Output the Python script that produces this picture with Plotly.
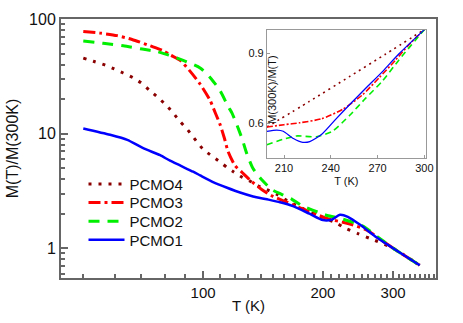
import plotly.graph_objects as go

# main panel: M(T)/M(300K) against T (log-log)
t_pcmo4 = [50, 53, 56.8, 59.8, 63, 66.7, 70.3, 73.2, 76.7, 80.8, 84.1, 87.6, 91.2, 100, 105.3, 110.3,
           114.9, 118.9, 125.3, 131.2, 137.4, 144.7, 153.3, 165.3, 196.6, 216.9, 224.5, 244.8, 270, 300, 350]
m_pcmo4 = [45.6, 42.8, 39.6, 36.7, 33.8, 30.7, 27.3, 24.0, 20.9, 17.7, 15.1, 12.7, 10.9, 7.3, 6.36, 5.66,
           5.05, 4.67, 4.16, 3.85, 3.5, 3.24, 2.94, 2.52, 1.89, 1.65, 1.53, 1.34, 1.17, 1.0, 0.71]

t_pcmo3 = [50, 55.1, 60.8, 66.3, 73.6, 79.4, 82.6, 87.6, 92.8, 98.3, 104.1, 107.2, 110.3, 113, 115.5,
           120.3, 125.3, 131.2, 140.6, 149.8, 162.4, 173.1, 204.7, 229.8, 257.9, 280, 300, 350]
m_pcmo3 = [77.9, 75.3, 71.6, 66.3, 58.3, 52.9, 48.7, 43.6, 34.9, 27.0, 19.5, 15.3, 12.0, 9.2, 7.0,
           5.25, 4.58, 3.93, 3.24, 2.83, 2.52, 2.29, 1.82, 1.65, 1.44, 1.18, 1.0, 0.71]

t_pcmo2 = [50, 56.1, 63, 70.3, 76.7, 82, 89.1, 98.3, 104.1, 110.3, 115.5, 118.2, 121.7, 125.3, 128.9,
           133.5, 140.6, 149, 157.8, 167.2, 178, 205, 221, 252, 275, 300, 350]
m_pcmo2 = [64.2, 61.4, 58.3, 54.7, 51.9, 48.4, 43.6, 37.4, 30.9, 23.7, 17.3, 15.1, 11.8, 9.0, 6.6,
           4.95, 3.93, 3.24, 2.94, 2.67, 2.33, 1.93, 1.82, 1.56, 1.25, 1.0, 0.71]

t_pcmo1 = [50, 58.4, 64.5, 70.7, 78, 82.6, 94.4, 98.3, 105.9, 114.9, 123.8, 133.5, 144.7, 156, 168.2,
           185, 200, 210.7, 220.7, 231, 248, 273, 300, 350]
m_pcmo1 = [11.1, 9.77, 8.83, 7.46, 6.48, 5.8, 4.65, 4.32, 3.78, 3.37, 3.06, 2.83, 2.67, 2.52, 2.33,
           2.0, 1.76, 1.78, 1.96, 1.88, 1.6, 1.24, 1.0, 0.71]

# inset: M(300K)/M(T) near 200-300 K
ti_pcmo4 = [199, 226, 252, 275, 300]
ri_pcmo4 = [0.585, 0.693, 0.80, 0.895, 1.0]

ti_pcmo3 = [199, 210, 220, 234, 247.5, 260, 271, 281.5, 290, 300]
ri_pcmo3 = [0.585, 0.595, 0.603, 0.62, 0.66, 0.72, 0.795, 0.87, 0.935, 1.0]

ti_pcmo2 = [199, 209.5, 218, 230.7, 241, 252, 262.4, 273, 283.6, 300]
ri_pcmo2 = [0.51, 0.533, 0.547, 0.544, 0.567, 0.634, 0.708, 0.78, 0.87, 1.0]

ti_pcmo1 = [199, 205.4, 209.5, 216, 222, 226.5, 234, 243.4, 252, 262.4, 273, 283.6, 300]
ri_pcmo1 = [0.567, 0.572, 0.567, 0.536, 0.52, 0.523, 0.553, 0.62, 0.68, 0.75, 0.82, 0.896, 1.0]

styles = {
    "PCMO4": {"color": "#8b0000", "width": 3, "dash": "3px,7px"},
    "PCMO3": {"color": "#ff0000", "width": 3, "dash": "12px,4px,3px,4px"},
    "PCMO2": {"color": "#00ee00", "width": 3, "dash": "11px,8px"},
    "PCMO1": {"color": "#0000ff", "width": 2.5, "dash": "solid"},
}
inset_styles = {
    "PCMO4": {"color": "#8b0000", "width": 1.6, "dash": "2px,4px"},
    "PCMO3": {"color": "#ff0000", "width": 1.6, "dash": "6px,2px,2px,2px"},
    "PCMO2": {"color": "#00ee00", "width": 1.6, "dash": "6px,4px"},
    "PCMO1": {"color": "#0000ff", "width": 1.3, "dash": "solid"},
}

main = [("PCMO4", t_pcmo4, m_pcmo4), ("PCMO3", t_pcmo3, m_pcmo3),
        ("PCMO2", t_pcmo2, m_pcmo2), ("PCMO1", t_pcmo1, m_pcmo1)]
inset = [("PCMO4", ti_pcmo4, ri_pcmo4), ("PCMO3", ti_pcmo3, ri_pcmo3),
         ("PCMO2", ti_pcmo2, ri_pcmo2), ("PCMO1", ti_pcmo1, ri_pcmo1)]

# one legend per row so the row spacing can follow the original
legend_ids = ["legend", "legend2", "legend3", "legend4"]
legend_rows = [0.362, 0.291, 0.218, 0.147]

fig = go.Figure()
for (name, t, m), lid in zip(main, legend_ids):
    fig.add_trace(go.Scatter(x=t, y=m, mode="lines", name=name, line=styles[name],
                             line_shape="spline", line_smoothing=0.6, legend=lid))
for name, t, r in inset:
    fig.add_trace(go.Scatter(x=t, y=r, mode="lines", name=name, showlegend=False,
                             line=inset_styles[name], line_shape="spline", line_smoothing=0.6,
                             xaxis="x2", yaxis="y2"))

axis_color = "#666666"
font = "Liberation Sans, Arial"

legends = {}
for lid, row in zip(legend_ids, legend_rows):
    legends[lid] = {
        "x": 0.06, "y": row, "xanchor": "left", "yanchor": "middle",
        "bgcolor": "rgba(0,0,0,0)", "font": {"size": 15}, "itemwidth": 36,
    }

fig.update_layout(
    width=463,
    height=323,
    template="plotly_white",
    paper_bgcolor="white",
    plot_bgcolor="white",
    font={"family": font, "color": "#111111", "size": 15},
    margin={"l": 61, "r": 27, "t": 11, "b": 41},
    showlegend=True,
    **legends,
    xaxis={
        "type": "log", "range": [1.643, 2.585],
        "tickvals": [100, 200, 300], "ticktext": ["100", "200", "300"],
        "ticks": "inside", "ticklen": 7, "tickwidth": 1.5, "tickcolor": axis_color,
        "minor": {"tickvals": [50, 60, 70, 80, 90, 110, 120, 130, 140, 150, 160, 170, 180, 190,
                               210, 220, 230, 240, 250, 260, 270, 280, 290, 310, 320, 330, 340,
                               350, 360, 370, 380],
                  "ticks": "inside", "ticklen": 4, "tickcolor": axis_color, "showgrid": False},
        "showline": True, "linecolor": axis_color, "linewidth": 2, "mirror": True,
        "showgrid": False, "zeroline": False,
        "title": {"text": "T (K)", "font": {"size": 15}, "standoff": 0},
        "tickfont": {"size": 15},
    },
    yaxis={
        "type": "log", "range": [-0.26, 2.0],
        "tickvals": [1, 10, 100], "ticktext": ["1", "10", "100"],
        "ticks": "inside", "ticklen": 7, "tickwidth": 1.5, "tickcolor": axis_color,
        "minor": {"tickvals": [0.6, 0.7, 0.8, 0.9, 2, 3, 4, 5, 6, 7, 8, 9,
                               20, 30, 40, 50, 60, 70, 80, 90],
                  "ticks": "inside", "ticklen": 4, "tickcolor": axis_color, "showgrid": False},
        "showline": True, "linecolor": axis_color, "linewidth": 2, "mirror": True,
        "showgrid": False, "zeroline": False,
        "title": {"text": "M(T)/M(300K)", "font": {"size": 16}, "standoff": 6},
        "tickfont": {"size": 16},
    },
    xaxis2={
        "domain": [0.549, 0.973], "anchor": "y2", "range": [199, 301],
        "tickvals": [210, 240, 270, 300], "ticks": "inside", "ticklen": 3,
        "tickcolor": "#999999", "tickfont": {"size": 11},
        "showline": True, "linecolor": "#999999", "linewidth": 1, "mirror": True,
        "showgrid": False, "zeroline": False,
        "title": {"text": "T (K)", "font": {"size": 11}, "standoff": 4},
    },
    yaxis2={
        "domain": [0.465, 0.959], "anchor": "x2", "range": [0.455, 1.0],
        "tickvals": [0.6, 0.9], "ticktext": ["0.6", "0.9"], "ticks": "inside", "ticklen": 3,
        "tickcolor": "#999999", "tickfont": {"size": 11},
        "showline": True, "linecolor": "#999999", "linewidth": 1, "mirror": True,
        "showgrid": False, "zeroline": False,
    },
    annotations=[{
        "text": "M(300K)/M(T)", "textangle": -90, "showarrow": False,
        "xref": "paper", "yref": "paper", "x": 0.563, "y": 0.727,
        "xanchor": "center", "yanchor": "middle", "font": {"size": 11},
    }],
)

# drop the browser's default body margin so the figure sits at the page origin
fig.write_html("out.html", config={"displayModeBar": False},
               post_script="document.body.style.margin='0';")
